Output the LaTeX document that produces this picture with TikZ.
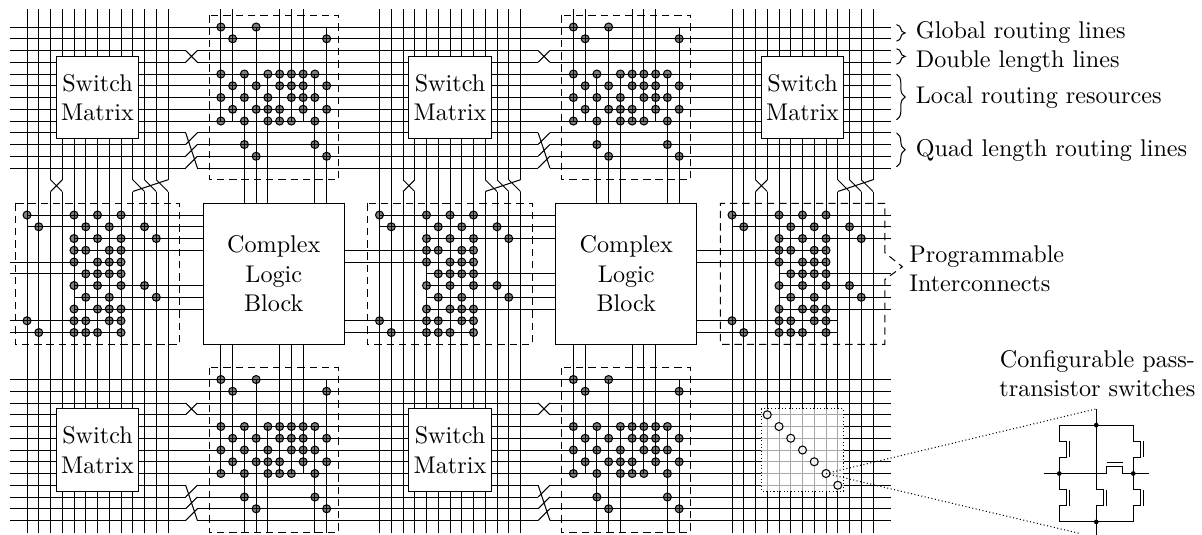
\documentclass[tikz,border=0pt]{standalone}
\usepackage{tikz}
\usetikzlibrary{decorations.pathreplacing}

\tikzset{
  pibox/.style={densely dashed},
  pidot/.style={draw=black, fill=black, fill opacity=0.5},
  passdot/.style={draw=black, fill=white, fill opacity=0.6},
  blockbox/.style={draw, fill=white, align=center, inner sep=0pt},
  routebrace/.style={decorate, decoration={brace, amplitude=3.5pt}},
  routelabel/.style={anchor=base west, inner sep=0pt},
  soliddot/.style={fill=black}
}

\begin{document}
\begin{tikzpicture}[x=4.776pt, y=-4.776pt, line width=0.42pt, every node/.style={font=\fontsize{9.82}{12}\selectfont}]
  \useasboundingbox (-2.3,-2.3) rectangle (100,43.15);
  % horizontal tracks
  \foreach \r in {0,30}{
    \foreach \i in {0,1,4,5,6,7,8}
      \draw (-1.45,\i+\r) -- (73.5,\i+\r);
    \foreach \i in {2,3,9,10,11,12}
      \draw (-1.45,\i+\r) -- (13.5,\i+\r) (14.5,\i+\r) -- (43.5,\i+\r) (44.5,\i+\r) -- (73.5,\i+\r);
    \foreach \t in {0,30}
      \draw (13.5+\t,2+\r) -- (14.5+\t,3+\r) (13.5+\t,3+\r) -- (14.5+\t,2+\r)
        (13.5+\t,9+\r) -- (14.5+\t,12+\r) (13.5+\t,10+\r) -- (14.5+\t,9+\r)
        (13.5+\t,11+\r) -- (14.5+\t,10+\r) (13.5+\t,12+\r) -- (14.5+\t,11+\r);
  }
  % vertical tracks
  \foreach \t in {0,30,60}{
    \foreach \i in {0,1,4,5,6,7,8}
      \draw (\i+\t,-1.5) -- (\i+\t,43.1);
    \foreach \i in {2,3,9,10,11,12}
      \draw (\i+\t,-1.5) -- (\i+\t,13) (\i+\t,14) -- (\i+\t,43.1);
    \draw (2+\t,13) -- (3+\t,14) (3+\t,13) -- (2+\t,14)
      (12+\t,13) -- (9+\t,14) (9+\t,13) -- (10+\t,14)
      (10+\t,13) -- (11+\t,14) (11+\t,13) -- (12+\t,14);
  }
  % interconnects above and below the logic blocks
  \foreach \t in {0,30}{
    \foreach \r/\s/\e in {0/-1.5/15, 30/27/43.1}{
      \foreach \k in {0,1,5,6,7}
        \draw (16.5+\k+\t,\s) -- (16.5+\k+\t,8+\r);
      \foreach \k in {2,4,8}
        \draw (16.5+\k+\t,4+\r) -- (16.5+\k+\t,\e);
      \foreach \k in {3,9}
        \draw (16.5+\k+\t,\r) -- (16.5+\k+\t,\e);
      \draw[pibox] (15.5+\t,-1+\r) rectangle (26.5+\t,13+\r);
      \foreach \k/\rows in {0/{0,4,6,8}, 1/{1,5,7}, 2/{4,6,8,10}, 3/{0,5,7,11}, 4/{4,6,7,8},
          5/{4,5,7,8}, 6/{4,5,6,8}, 7/{4,5,6,7}, 8/{4,6,8,10}, 9/{1,5,7,11}}
        \foreach \j in \rows
          \draw[pidot] (16.5+\k+\t,\j+\r) circle (0.34);
    }
  }
  % interconnects left of the logic blocks
  \foreach \t/\sx/\ex/\lx/\rr/\lr in {0/-1.45/15/8/19/21, 30/27/45/38/21/19, 60/57/73.5/69/21/19}{
    \foreach \j in {16,17}
      \draw (\t,\j) -- (\ex,\j);
    \foreach \j in {18,\rr,22,23,24}
      \draw (4+\t,\j) -- (\ex,\j);
    \foreach \j in {20,\lr}
      \draw (\sx,\j) -- (8+\t,\j);
    \foreach \j in {25,26}
      \draw (\sx,\j) -- (\lx,\j);
    \foreach \j/\cols in {16/{0,4,6,8}, 17/{1,5,7,10}, 18/{4,6,8,11}, 19/{4,5,7,8}, 20/{4,6,7,8},
        21/{5,6,7,8}, 22/{4,6,8,10}, 23/{5,7,11}, 24/{4,6,7,8}, 25/{0,4,5,7,8}, 26/{1,4,5,6,8}}
      \foreach \i in \cols
        \draw[pidot] (\i+\t,\j) circle (0.34);
  }
  \draw[pibox] (-1,15) rectangle (13,27);
  \draw[pibox] (29,15) rectangle (43,27);
  \draw[pibox] (73,19.2) -- (73,15) -- (59,15) -- (59,27) -- (73,27) -- (73,21.5) -- (74.5,20.4) -- (73,19.2);
  % blocks
  \node[blockbox, minimum size=33.43pt] (sw1) at (6,6) {Switch\\Matrix};
  \node[blockbox, minimum size=33.43pt] (sw2) at (36,6) {Switch\\Matrix};
  \node[blockbox, minimum size=33.43pt] (sw3) at (66,6) {Switch\\Matrix};
  \node[blockbox, minimum size=33.43pt] (sw4) at (6,36) {Switch\\Matrix};
  \node[blockbox, minimum size=33.43pt] (sw5) at (36,36) {Switch\\Matrix};
  \node[blockbox, minimum size=57.31pt] (clb1) at (21,21) {Complex\\Logic\\Block};
  \node[blockbox, minimum size=57.31pt] (clb2) at (51,21) {Complex\\Logic\\Block};
  % faded tile with the pass switches
  \fill[white, opacity=0.65] (62.5,32.5) rectangle (69.5,39.5);
  \draw[densely dotted] (62.5,32.5) rectangle (69.5,39.5);
  \foreach \i in {0,...,6}
    \draw[passdot] (63+\i,33+\i) circle (0.34);
  \coordinate (passsw) at (68,38);
  \coordinate (zoomtop) at (91,32.5);
  \coordinate (zoomlow) at (89.6,43.1);
  \draw[densely dotted] (passsw) -- (zoomtop);
  \draw[densely dotted] (passsw) -- (zoomlow);
  % enlarged switch
  \begin{scope}[shift={(91,38)}]
    \draw (0,-5.47) -- (0,1.4) (0,2.76) -- (0,5.2);
    \draw (-3.15,-2.75) -- (-3.15,-4.12) -- (3.15,-4.12) -- (3.15,-2.75);
    \draw (-3.15,2.76) -- (-3.15,4.12) -- (3.15,4.12) -- (3.15,2.76);
    \draw (-3.15,-1.39) -- (-3.15,1.4) (3.15,-1.39) -- (3.15,1.4);
    \draw (-4.48,0) -- (0.9,0) -- (0.9,-0.62) -- (2.26,-0.62) -- (2.26,0) -- (4.45,0);
    \draw (0.9,-0.9) -- (2.26,-0.9);
    \foreach \tx/\ty in {-3.15/-2.75, 3.15/-2.75, -3.15/1.4, 0/1.4, 3.15/1.4}{
      \draw (\tx,\ty) -- ++(0.58,0) -- ++(0,1.36) -- ++(-0.58,0);
      \draw (\tx+0.9,\ty) -- ++(0,1.36);
    }
    \foreach \tx/\ty in {-3.15/0, 3.15/0, 0/-4.12, 0/4.12}
      \fill[soliddot] (\tx,\ty) circle (0.2);
  \end{scope}
  % labels
  \draw[routebrace] (74,-0.2) -- (74,1.2);
  \draw[routebrace] (74,1.85) -- (74,3.15);
  \draw[routebrace] (74,4) -- (74,7.9);
  \draw[routebrace] (74,9) -- (74,11.9);
  \node[routelabel] (glblab) at (75.6,0.96) {Global routing lines};
  \node[routelabel] (dbllab) at (75.6,3.46) {Double length lines};
  \node[routelabel] (loclab) at (75.6,6.53) {Local routing resources};
  \node[routelabel] (quadlab) at (75.6,11.03) {Quad length routing lines};
  \node[routelabel, align=left] (pilab) at (75.05,22.53) {Programmable\\Interconnects};
  \node[align=center, inner sep=0pt, anchor=base] (swlab) at (91.1,31.46) {Configurable pass-\\transistor switches};
\end{tikzpicture}
\end{document}
